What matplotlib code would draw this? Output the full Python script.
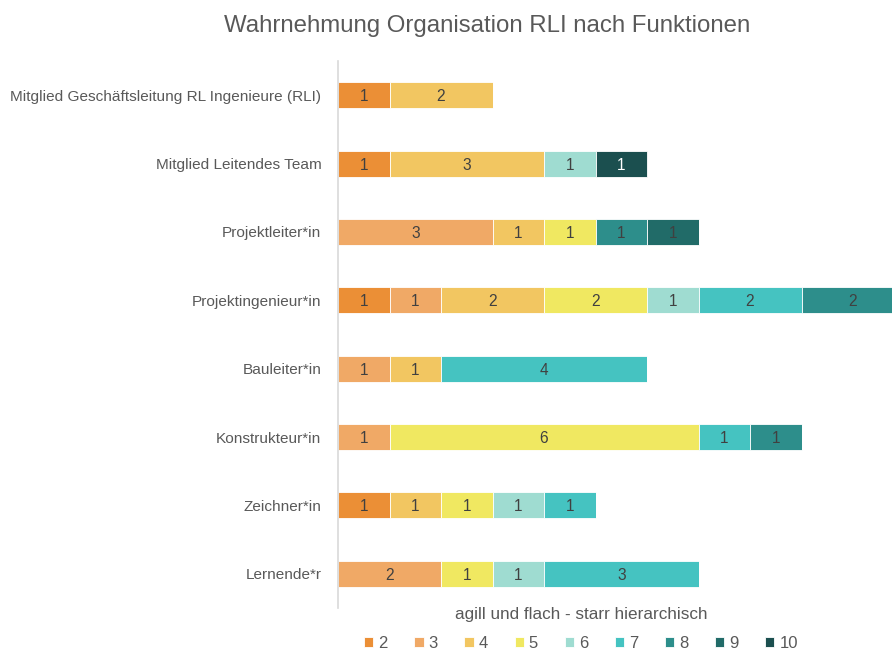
import matplotlib.pyplot as plt
import numpy as np

plt.rcParams['font.family'] = ['Liberation Sans', 'DejaVu Sans']

categories = [
    "Mitglied Geschäftsleitung RL Ingenieure (RLI)",
    "Mitglied Leitendes Team",
    "Projektleiter*in",
    "Projektingenieur*in",
    "Bauleiter*in",
    "Konstrukteur*in",
    "Zeichner*in",
    "Lernende*r",
]
scores = ["2", "3", "4", "5", "6", "7", "8", "9", "10"]

s2 = [1, 1, 0, 1, 0, 0, 1, 0]
s3 = [0, 0, 3, 1, 1, 1, 0, 2]
s4 = [2, 3, 1, 2, 1, 0, 1, 0]
s5 = [0, 0, 1, 2, 0, 6, 1, 1]
s6 = [0, 1, 0, 1, 0, 0, 1, 1]
s7 = [0, 0, 0, 2, 4, 1, 1, 3]
s8 = [0, 0, 1, 2, 0, 1, 0, 0]
s9 = [0, 0, 1, 0, 0, 0, 0, 0]
s10 = [0, 1, 0, 0, 0, 0, 0, 0]
series = [s2, s3, s4, s5, s6, s7, s8, s9, s10]

colors = ['#EB8F36', '#F0A966', '#F2C661', '#F0E861', '#9FDCD1',
          '#45C3C1', '#2D8E8B', '#216B68', '#1B4F4F']
text_gray = '#595959'

fig = plt.figure(figsize=(8.92, 6.53), dpi=100)
ax = fig.add_axes([338 / 892, 45 / 653, 1 - 338 / 892, (608 - 61) / 653])

y = np.arange(len(categories))
left = np.zeros(len(categories))
for i, vals in enumerate(series):
    vals = np.array(vals, dtype=float)
    ax.barh(y, vals, left=left, height=0.38, color=colors[i],
            edgecolor='white', linewidth=0.6, label=scores[i])
    for j, v in enumerate(vals):
        if v > 0:
            tc = 'white' if i == 8 else '#404040'
            ax.text(left[j] + v / 2, y[j], f"{int(v)}", ha='center', va='center_baseline',
                    fontsize=11.2, color=tc)
    left += vals

ax.set_xlim(0, (892 - 338) / 51.5)
ax.set_ylim(len(categories) - 0.5, -0.5)
ax.set_yticks(y)
ax.set_yticklabels(categories, fontsize=11.1, color=text_gray)
ax.tick_params(axis='y', length=0, pad=12)
ax.set_xticks([])
for s in ['top', 'right', 'bottom']:
    ax.spines[s].set_visible(False)
ax.spines['left'].set_color('#D9D9D9')
ax.spines['left'].set_linewidth(1.2)

fig.text(487 / 892, 1 - 26 / 653, "Wahrnehmung Organisation RLI nach Funktionen",
         ha='center', va='center', fontsize=17.3, color=text_gray)
fig.text(581 / 892, 1 - 615 / 653, "agill und flach - starr hierarchisch",
         ha='center', va='center', fontsize=12.3, color=text_gray)

handles, labels = ax.get_legend_handles_labels()
leg = fig.legend(handles, labels, loc='center', bbox_to_anchor=(581 / 892, 1 - 643 / 653),
                 ncol=9, frameon=False, fontsize=12, handlelength=0.55, handleheight=0.55,
                 handletextpad=0.3, columnspacing=1.6, borderpad=0)
for t in leg.get_texts():
    t.set_color(text_gray)

fig.savefig("out.png", dpi=100)
